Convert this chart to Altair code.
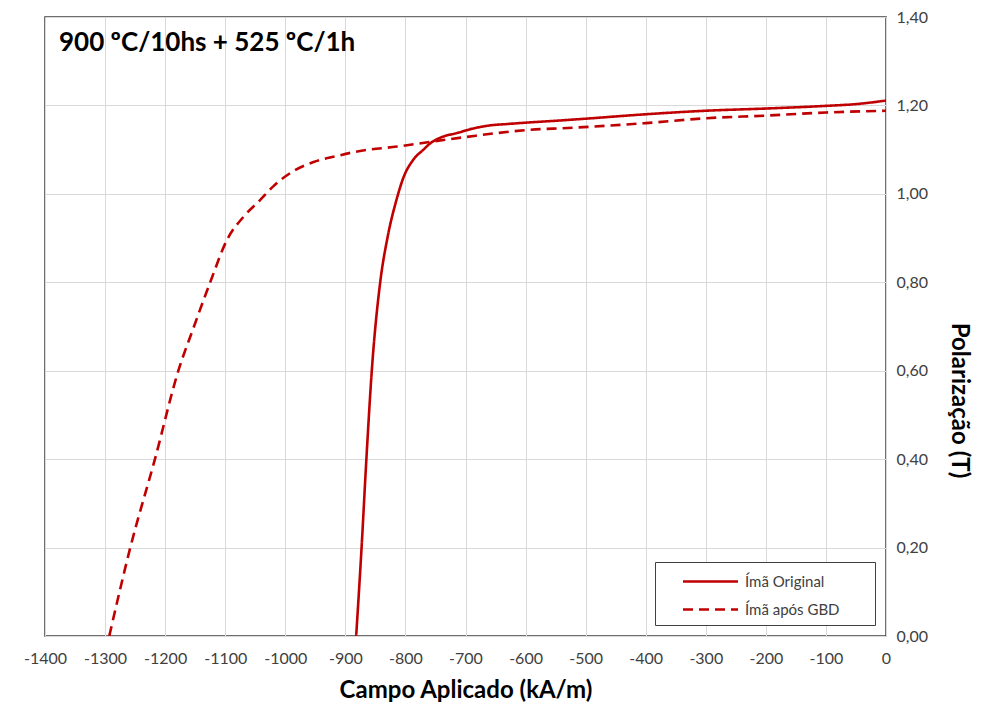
import altair as alt
import pandas as pd

# Ímã Original (solid)
h_orig = [-882, -873, -865, -856, -842, -830, -815, -803, -787, -770, -758, -740,
          -713, -690, -658, -630, -600, -542, -500, -400, -300, -200, -100, -50, 0]
j_orig = [0.00, 0.20, 0.40, 0.60, 0.80, 0.90, 0.986, 1.038, 1.077, 1.100, 1.115, 1.128,
          1.138, 1.147, 1.155, 1.158, 1.161, 1.166, 1.170, 1.180, 1.188, 1.193, 1.199, 1.203, 1.211]

# Ímã após GBD (dashed)
h_gbd = [-1293, -1258, -1217, -1178, -1152, -1125, -1097, -1069, -1042, -1020, -987,
         -953, -913, -880, -814, -703, -592, -530, -400, -300, -200, -100, 0]
j_gbd = [0.00, 0.20, 0.40, 0.60, 0.70, 0.80, 0.896, 0.949, 0.986, 1.017, 1.051,
         1.072, 1.086, 1.096, 1.107, 1.128, 1.145, 1.149, 1.160, 1.171, 1.177, 1.184, 1.188]

series = ["Ímã Original", "Ímã após GBD"]
x_ticks = list(range(-1400, 1, 100))
y_ticks = [0.0, 0.2, 0.4, 0.6, 0.8, 1.0, 1.2, 1.4]

df = pd.concat([
    pd.DataFrame({"H": h_orig, "J": j_orig, "serie": series[0], "ord": range(len(h_orig))}),
    pd.DataFrame({"H": h_gbd, "J": j_gbd, "serie": series[1], "ord": range(len(h_gbd))}),
])

FONT = "Lato, Open Sans, sans-serif"
RED = "#C00000"

chart = alt.Chart(df).mark_line(color=RED, strokeWidth=2.6, interpolate="monotone", clip=True).encode(
    x=alt.X("H:Q", scale=alt.Scale(domain=[-1400, 0], nice=False),
            axis=alt.Axis(values=x_ticks, title="Campo Aplicado (kA/m)", grid=True,
                          labelExpr="datum.value + ''", labelOverlap=False, labelFlush=False,
                          labelPadding=14, titlePadding=12)),
    y=alt.Y("J:Q", scale=alt.Scale(domain=[0, 1.4], nice=False),
            axis=alt.Axis(orient="right", values=y_ticks, title="Polarização (T)",
                          labelExpr="replace(format(datum.value, '.2f'), '.', ',')",
                          labelFlush=False,
                          labelPadding=10, titleX=60, titleY=383)),
    strokeDash=alt.StrokeDash("serie:N", scale=alt.Scale(domain=series, range=[[1, 0], [10, 6]]),
                              legend=alt.Legend(title="MMM", titleOrient="right", titleOpacity=0,
                                                titleFontSize=10, titlePadding=4,
                                                orient="none", legendX=610, legendY=545,
                                                symbolType="M-2.5,0H2.5", symbolSize=484,
                                                symbolStrokeColor=RED, symbolStrokeWidth=2.6,
                                                symbolFillColor="transparent",
                                                symbolOffset=36, labelOffset=22,
                                                labelFontSize=15, labelFont=FONT, labelColor="#404040",
                                                labelLimit=400,
                                                fillColor="white", strokeColor="#404040",
                                                padding=7, rowPadding=7)),
    order="ord:Q",
).properties(
    width=841, height=619,
    autosize=alt.AutoSizeParams(type="none"),
    padding={"left": 45, "top": 17, "right": 99, "bottom": 71},
    title=alt.TitleParams("900 ºC/10hs + 525 ºC/1h", anchor="start", frame="group", dx=14, dy=51,
                          font=FONT, fontSize=26, fontWeight="bold", color="black"),
).configure_view(
    stroke="#404040", strokeWidth=1.5
).configure_axis(
    domain=False, ticks=False, gridColor="#d9d9d9", gridWidth=1,
    labelFont=FONT, labelFontSize=16, labelColor="#404040",
    titleFont=FONT, titleFontSize=24, titleFontWeight="bold", titleColor="black",
)

chart.save("out.html", embed_options={"renderer": "svg", "actions": False})
